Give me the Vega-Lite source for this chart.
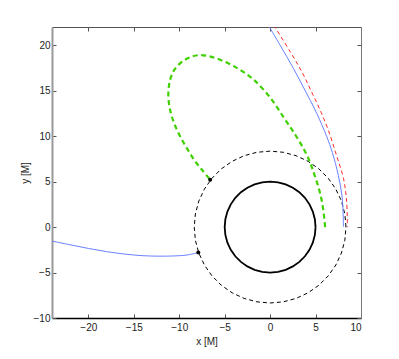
{
  "$schema": "https://vega.github.io/schema/vega-lite/v6.json",
  "width": 309,
  "height": 291,
  "autosize": {"type": "none"},
  "padding": {"left": 52, "top": 27, "right": 38, "bottom": 41},
  "background": "white",
  "config": {
    "view": {"stroke": null},
    "axis": {
      "grid": false,
      "labelFont": "Liberation Sans",
      "titleFont": "Liberation Sans",
      "labelFontSize": 10,
      "titleFontSize": 10,
      "titleFontWeight": "normal",
      "labelColor": "#222",
      "titleColor": "#222",
      "tickColor": "#555",
      "tickSize": -4,
      "domainColor": "#444"
    }
  },
  "datasets": {
    "circ5": [
      {"i":0,"x":5,"y":0},{"i":1,"x":4.924,"y":0.868},{"i":2,"x":4.698,"y":1.71},{"i":3,"x":4.33,"y":2.5},
      {"i":4,"x":3.83,"y":3.214},{"i":5,"x":3.214,"y":3.83},{"i":6,"x":2.5,"y":4.33},{"i":7,"x":1.71,"y":4.698},
      {"i":8,"x":0.868,"y":4.924},{"i":9,"x":0,"y":5},{"i":10,"x":-0.868,"y":4.924},{"i":11,"x":-1.71,"y":4.698},
      {"i":12,"x":-2.5,"y":4.33},{"i":13,"x":-3.214,"y":3.83},{"i":14,"x":-3.83,"y":3.214},{"i":15,"x":-4.33,"y":2.5},
      {"i":16,"x":-4.698,"y":1.71},{"i":17,"x":-4.924,"y":0.868},{"i":18,"x":-5,"y":0},{"i":19,"x":-4.924,"y":-0.868},
      {"i":20,"x":-4.698,"y":-1.71},{"i":21,"x":-4.33,"y":-2.5},{"i":22,"x":-3.83,"y":-3.214},{"i":23,"x":-3.214,"y":-3.83},
      {"i":24,"x":-2.5,"y":-4.33},{"i":25,"x":-1.71,"y":-4.698},{"i":26,"x":-0.868,"y":-4.924},{"i":27,"x":0,"y":-5},
      {"i":28,"x":0.868,"y":-4.924},{"i":29,"x":1.71,"y":-4.698},{"i":30,"x":2.5,"y":-4.33},{"i":31,"x":3.214,"y":-3.83},
      {"i":32,"x":3.83,"y":-3.214},{"i":33,"x":4.33,"y":-2.5},{"i":34,"x":4.698,"y":-1.71},{"i":35,"x":4.924,"y":-0.868},
      {"i":36,"x":5,"y":0}
    ],
    "circ835": [
      {"i":0,"x":8.35,"y":0},{"i":1,"x":8.223,"y":1.45},{"i":2,"x":7.847,"y":2.856},{"i":3,"x":7.231,"y":4.175},
      {"i":4,"x":6.397,"y":5.367},{"i":5,"x":5.367,"y":6.397},{"i":6,"x":4.175,"y":7.231},{"i":7,"x":2.856,"y":7.847},
      {"i":8,"x":1.45,"y":8.223},{"i":9,"x":0,"y":8.35},{"i":10,"x":-1.45,"y":8.223},{"i":11,"x":-2.856,"y":7.847},
      {"i":12,"x":-4.175,"y":7.231},{"i":13,"x":-5.367,"y":6.397},{"i":14,"x":-6.397,"y":5.367},{"i":15,"x":-7.231,"y":4.175},
      {"i":16,"x":-7.847,"y":2.856},{"i":17,"x":-8.223,"y":1.45},{"i":18,"x":-8.35,"y":0},{"i":19,"x":-8.223,"y":-1.45},
      {"i":20,"x":-7.847,"y":-2.856},{"i":21,"x":-7.231,"y":-4.175},{"i":22,"x":-6.397,"y":-5.367},{"i":23,"x":-5.367,"y":-6.397},
      {"i":24,"x":-4.175,"y":-7.231},{"i":25,"x":-2.856,"y":-7.847},{"i":26,"x":-1.45,"y":-8.223},{"i":27,"x":0,"y":-8.35},
      {"i":28,"x":1.45,"y":-8.223},{"i":29,"x":2.856,"y":-7.847},{"i":30,"x":4.175,"y":-7.231},{"i":31,"x":5.367,"y":-6.397},
      {"i":32,"x":6.397,"y":-5.367},{"i":33,"x":7.231,"y":-4.175},{"i":34,"x":7.847,"y":-2.856},{"i":35,"x":8.223,"y":-1.45},
      {"i":36,"x":8.35,"y":0}
    ],
    "green": [
      {"i":0,"x":6.05,"y":0},{"i":1,"x":5.9,"y":1.5},{"i":2,"x":5.7,"y":2.8},{"i":3,"x":5.45,"y":3.9},
      {"i":4,"x":5.13,"y":5.0},{"i":5,"x":4.75,"y":6.1},{"i":6,"x":4.4,"y":7.1},{"i":7,"x":3.8,"y":8.4},
      {"i":8,"x":2.8,"y":10.1},{"i":9,"x":1.5,"y":12.05},{"i":10,"x":0,"y":14.25},{"i":11,"x":-1.8,"y":16.2},
      {"i":12,"x":-3.0,"y":17.1},{"i":13,"x":-4.2,"y":17.8},{"i":14,"x":-5.5,"y":18.4},{"i":15,"x":-6.8,"y":18.8},
      {"i":16,"x":-7.9,"y":18.9},{"i":17,"x":-9.0,"y":18.6},{"i":18,"x":-9.9,"y":18.0},{"i":19,"x":-10.6,"y":17.2},
      {"i":20,"x":-11.0,"y":16.2},{"i":21,"x":-11.2,"y":14.8},{"i":22,"x":-11.1,"y":13.4},{"i":23,"x":-10.8,"y":12.1},
      {"i":24,"x":-10.3,"y":10.8},{"i":25,"x":-9.7,"y":9.6},{"i":26,"x":-9.0,"y":8.4},{"i":27,"x":-8.3,"y":7.3},
      {"i":28,"x":-7.5,"y":6.3},{"i":29,"x":-6.6,"y":5.2}
    ],
    "blueRight": [
      {"i":0,"x":-0.2,"y":22.2},{"i":1,"x":1.1,"y":20.0},{"i":2,"x":2.56,"y":17.46},{"i":3,"x":3.7,"y":15.3},
      {"i":4,"x":5.13,"y":12.5},{"i":5,"x":6.24,"y":9.93},{"i":6,"x":6.85,"y":8.2},{"i":7,"x":7.5,"y":5.7},
      {"i":8,"x":7.9,"y":3.5},{"i":9,"x":8.03,"y":1.6},{"i":10,"x":8.07,"y":0}
    ],
    "blueLeft": [
      {"i":0,"x":-24,"y":-1.54},{"i":1,"x":-22,"y":-1.95},{"i":2,"x":-20,"y":-2.35},{"i":3,"x":-18,"y":-2.7},
      {"i":4,"x":-16,"y":-2.97},{"i":5,"x":-14,"y":-3.15},{"i":6,"x":-12,"y":-3.2},{"i":7,"x":-10,"y":-3.15},
      {"i":8,"x":-9,"y":-3.05},{"i":9,"x":-7.9,"y":-2.8}
    ],
    "red": [
      {"i":0,"x":0.4,"y":22.2},{"i":1,"x":2.2,"y":19.3},{"i":2,"x":3.48,"y":17.1},{"i":3,"x":4.5,"y":15.0},
      {"i":4,"x":5.5,"y":12.87},{"i":5,"x":6.4,"y":10.67},{"i":6,"x":7.3,"y":7.9},{"i":7,"x":8.07,"y":5.36},
      {"i":8,"x":8.42,"y":2.78},{"i":9,"x":8.5,"y":0}
    ],
    "dots": [
      {"x":-6.6,"y":5.2},{"x":-7.9,"y":-2.8}
    ]
  },
  "layer": [
    {
      "data": {"name": "circ5"},
      "mark": {"type": "line", "color": "black", "strokeWidth": 1.8, "clip": true},
      "encoding": {
        "x": {"field": "x", "type": "quantitative", "scale": {"domain": [-24, 10], "nice": false, "zero": false},
              "axis": {"orient": "bottom", "values": [-20, -15, -10, -5, 0, 5, 10], "title": "x [M]", "domainColor": "#000", "domainWidth": 1.5, "labelPadding": 8, "titlePadding": 4}},
        "y": {"field": "y", "type": "quantitative", "scale": {"domain": [-10, 22], "nice": false, "zero": false},
              "axis": {"orient": "left", "values": [-10, -5, 0, 5, 10, 15, 20], "title": "y [M]", "domainColor": "#999", "domainWidth": 2, "labelPadding": 6, "titlePadding": 3}},
        "order": {"field": "i", "type": "quantitative"}
      }
    },
    {
      "data": {"name": "circ835"},
      "mark": {"type": "line", "color": "black", "strokeWidth": 1, "strokeDash": [4, 3], "clip": true},
      "encoding": {
        "x": {"field": "x", "type": "quantitative", "scale": {"domain": [-24, 10], "nice": false, "zero": false},
              "axis": {"orient": "top", "values": [-20, -15, -10, -5, 0, 5, 10], "title": null, "labels": false, "domainColor": "#555"}},
        "y": {"field": "y", "type": "quantitative", "scale": {"domain": [-10, 22], "nice": false, "zero": false},
              "axis": {"orient": "right", "values": [-10, -5, 0, 5, 10, 15, 20], "title": null, "labels": false, "domainColor": "#777"}},
        "order": {"field": "i", "type": "quantitative"}
      }
    },
    {
      "data": {"name": "green"},
      "mark": {"type": "line", "color": "#3fd000", "strokeWidth": 2.2, "strokeDash": [5, 3.5], "interpolate": "catmull-rom", "clip": true},
      "encoding": {
        "x": {"field": "x", "type": "quantitative", "axis": null},
        "y": {"field": "y", "type": "quantitative", "axis": null},
        "order": {"field": "i", "type": "quantitative"}
      }
    },
    {
      "data": {"name": "blueRight"},
      "mark": {"type": "line", "color": "#6a80ff", "strokeWidth": 1, "interpolate": "catmull-rom", "clip": true},
      "encoding": {
        "x": {"field": "x", "type": "quantitative", "axis": null},
        "y": {"field": "y", "type": "quantitative", "axis": null},
        "order": {"field": "i", "type": "quantitative"}
      }
    },
    {
      "data": {"name": "blueLeft"},
      "mark": {"type": "line", "color": "#6a80ff", "strokeWidth": 1, "interpolate": "catmull-rom", "clip": true},
      "encoding": {
        "x": {"field": "x", "type": "quantitative", "axis": null},
        "y": {"field": "y", "type": "quantitative", "axis": null},
        "order": {"field": "i", "type": "quantitative"}
      }
    },
    {
      "data": {"name": "red"},
      "mark": {"type": "line", "color": "#ff2a2a", "strokeWidth": 1, "strokeDash": [4, 3], "interpolate": "catmull-rom", "clip": true},
      "encoding": {
        "x": {"field": "x", "type": "quantitative", "axis": null},
        "y": {"field": "y", "type": "quantitative", "axis": null},
        "order": {"field": "i", "type": "quantitative"}
      }
    },
    {
      "data": {"name": "dots"},
      "mark": {"type": "point", "filled": true, "color": "black", "size": 16, "opacity": 1},
      "encoding": {
        "x": {"field": "x", "type": "quantitative", "axis": null},
        "y": {"field": "y", "type": "quantitative", "axis": null}
      }
    }
  ],
  "resolve": {"axis": {"x": "independent", "y": "independent"}}
}
